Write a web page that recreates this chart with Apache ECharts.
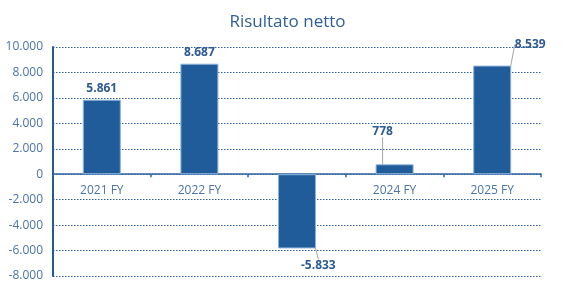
<!DOCTYPE html>
<html>
<head>
<meta charset="utf-8">
<script src="https://cdn.jsdelivr.net/npm/echarts@6/dist/echarts.min.js"></script>
<style>
  html, body { margin: 0; padding: 0; background: #fff; }
  #chart { width: 575px; height: 308px; }
</style>
</head>
<body>
<div id="chart"></div>
<script>
// dati
let categories = ["2021 FY", "2022 FY", "2023 FY", "2024 FY", "2025 FY"];
let risultato = [5861, 8687, -5833, 778, 8539];
// spostamenti etichette (dx, dy) per le barre con linea guida
let labelShift = [[0, 0], [0, 0], [4, 9], [-12, -22], [38, -10]];

function fmt(v) {
    let s = Math.abs(Math.round(v)).toString().replace(/\B(?=(\d{3})+(?!\d))/g, ".");
    return (v < 0 ? "-" : "") + s;
}

let barData = risultato.map(function (v, i) {
    let moved = labelShift[i][0] !== 0 || labelShift[i][1] !== 0;
    let item = { value: v };
    if (moved) item.labelLine = { show: true };
    return item;
});

let myChart = echarts.init(document.getElementById("chart"));
myChart.setOption({
    backgroundColor: "#fff",
    textStyle: { fontFamily: "Open Sans" },
    title: {
        text: "Risultato netto",
        left: "center",
        top: 9,
        textStyle: { fontSize: 17, fontWeight: "normal", color: "#2f5f98", fontFamily: "Open Sans" }
    },
    grid: { left: 53, right: 34, top: 47, bottom: 32, containLabel: false },
    xAxis: {
        type: "category",
        data: categories,
        axisLine: { onZero: true, lineStyle: { color: "#2f64a3", width: 1.5 } },
        axisTick: { show: true, length: 3, lineStyle: { color: "#2f64a3", width: 1.5 } },
        axisLabel: {
            // le etichette restano in fondo alla griglia: le porto sotto lo zero
            margin: -91,
            fontSize: 12,
            color: "#4a74aa",
            formatter: function (val, idx) {
                return risultato[idx] < 0 ? "" : val;
            }
        },
        splitLine: { show: false }
    },
    yAxis: {
        type: "value",
        min: -8000,
        max: 10000,
        interval: 2000,
        axisLine: { show: true, lineStyle: { color: "#1f5c99", width: 2 } },
        axisTick: { show: false },
        axisLabel: { fontSize: 12, color: "#4a74aa", margin: 10, formatter: fmt },
        splitLine: { show: true, lineStyle: { color: "#2e5f9e", type: [1.5, 1.5], width: 1 } }
    },
    series: [{
        type: "bar",
        data: barData,
        barWidth: 38,
        itemStyle: { color: "#1f5c99", borderColor: "#8fb4dc", borderWidth: 1 },
        label: {
            show: true,
            fontSize: 12,
            fontWeight: "bold",
            color: "#2c5a92",
            formatter: function (p) { return fmt(p.value); },
            position: "top",
            distance: 5
        },
        labelLine: { show: false, lineStyle: { color: "#a6a6a6", width: 1 } },
        labelLayout: function (params) {
            let sh = labelShift[params.dataIndex];
            if (sh[0] === 0 && sh[1] === 0) return {};
            let out = { dx: sh[0], dy: sh[1] };
            if (risultato[params.dataIndex] < 0) {
                out.y = params.rect.y + params.rect.height + 8 + sh[1];
                out.dy = 0;
                out.verticalAlign = "middle";
            }
            return out;
        }
    }]
});
</script>
</body>
</html>
